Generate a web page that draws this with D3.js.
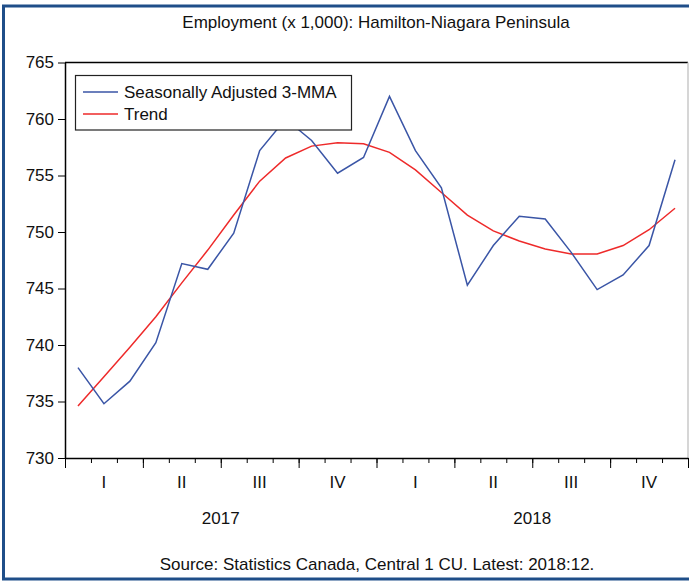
<!DOCTYPE html>
<html lang="en">
<head>
<meta charset="UTF-8">
<title>Employment Hamilton-Niagara</title>
<script src="https://d3js.org/d3.v7.min.js"></script>
<style>
    body { margin: 0; background: #fff; }
    svg text { font-family: "Liberation Sans", Arial, sans-serif; fill: #111; }
</style>
</head>
<body>
<div id="chart"></div>
<script>
    // monthly values, Jan 2017 - Dec 2018
    var months = d3.range(24);
    var seasAdj = [738.0, 734.8, 736.8, 740.2, 747.2, 746.7, 749.9, 757.2, 760.0, 758.1, 755.2, 756.6,
                   762.0, 757.2, 753.9, 745.3, 748.8, 751.4, 751.15, 748.2, 744.9, 746.2, 748.8, 756.4];
    var trend = [734.6, 737.2, 739.8, 742.5, 745.5, 748.4, 751.5, 754.5, 756.55, 757.6, 757.9, 757.8,
                 757.05, 755.5, 753.5, 751.5, 750.1, 749.2, 748.5, 748.05, 748.05, 748.8, 750.2, 752.1];
    var quarterLabels = ["I", "II", "III", "IV", "I", "II", "III", "IV"];
    var yearLabels = ["2017", "2018"];
    var yTicks = [730, 735, 740, 745, 750, 755, 760, 765];

    function draw() {
        var width = 689, height = 581;
        var pLeft = 65, pRight = 688, pTop = 62.5, pBottom = 458;

        var svg = d3.select("#chart").append("svg")
            .attr("width", width)
            .attr("height", height);

        svg.append("rect").attr("width", width).attr("height", height).attr("fill", "#fff");

        // outer frame (right side runs off the picture)
        svg.append("rect")
            .attr("x", 3.5).attr("y", 6)
            .attr("width", 720).attr("height", 573)
            .attr("fill", "none")
            .attr("stroke", "#1f4e89")
            .attr("stroke-width", 3);

        var x = d3.scaleLinear().domain([0, 24]).range([pLeft, pRight]);
        var y = d3.scaleLinear().domain([730, 765]).range([pBottom, pTop]);

        svg.append("text")
            .attr("x", 376).attr("y", 28)
            .attr("text-anchor", "middle")
            .style("font-size", "17px")
            .text("Employment (x 1,000): Hamilton-Niagara Peninsula");

        // top and right edges of plot
        svg.append("line").attr("x1", pLeft).attr("x2", pRight).attr("y1", pTop).attr("y2", pTop)
            .attr("stroke", "#000").attr("stroke-width", 1.5);
        svg.append("line").attr("x1", pRight).attr("x2", pRight).attr("y1", pTop).attr("y2", pBottom)
            .attr("stroke", "#c8c8c8").attr("stroke-width", 1.5);

        var yAxis = d3.axisLeft(y).tickValues(yTicks).tickSize(7).tickPadding(4)
            .tickSizeOuter(0).tickFormat(d3.format("d"));
        var gy = svg.append("g").attr("transform", "translate(" + pLeft + ",0)").call(yAxis);
        gy.select(".domain").attr("stroke", "#000").attr("stroke-width", 1.5);
        gy.selectAll("text").style("font-size", "17px").attr("fill", "#111");

        // month ticks (minor) and quarter ticks (major)
        var gxMinor = svg.append("g").attr("transform", "translate(0," + pBottom + ")")
            .call(d3.axisBottom(x).tickValues(d3.range(0, 25)).tickSize(5).tickFormat("").tickSizeOuter(0));
        gxMinor.select(".domain").attr("stroke", "#000").attr("stroke-width", 1.5);
        var gxMajor = svg.append("g").attr("transform", "translate(0," + pBottom + ")")
            .call(d3.axisBottom(x).tickValues(d3.range(0, 25, 3)).tickSize(10).tickFormat("").tickSizeOuter(0));
        gxMajor.select(".domain").remove();

        svg.append("g").selectAll("text")
            .data(quarterLabels)
            .join("text")
            .attr("x", function(d, i) { return x(i * 3 + 1.5); })
            .attr("y", 488)
            .attr("text-anchor", "middle")
            .style("font-size", "17px")
            .text(function(d) { return d; });

        svg.append("g").selectAll("text")
            .data(yearLabels)
            .join("text")
            .attr("x", function(d, i) { return x(i * 12 + 6); })
            .attr("y", 524)
            .attr("text-anchor", "middle")
            .style("font-size", "17px")
            .text(function(d) { return d; });

        var line = function(vals) {
            return d3.line()
                .x(function(d) { return x(d + 0.5); })
                .y(function(d) { return y(vals[d]); })(months);
        };

        svg.append("path").attr("d", line(trend))
            .attr("fill", "none").attr("stroke", "#ee2a2a").attr("stroke-width", 1.5);
        svg.append("path").attr("d", line(seasAdj))
            .attr("fill", "none").attr("stroke", "#3a55a6").attr("stroke-width", 1.5);

        // legend
        var legend = svg.append("g");
        legend.append("rect")
            .attr("x", 75.5).attr("y", 75.5).attr("width", 276).attr("height", 54.5)
            .attr("fill", "#fff").attr("stroke", "#222").attr("stroke-width", 1.2);
        var items = [["Seasonally Adjusted 3-MMA", "#3a55a6"], ["Trend", "#ee2a2a"]];
        items.forEach(function(it, i) {
            var ly = 92 + i * 22;
            legend.append("line").attr("x1", 83).attr("x2", 118).attr("y1", ly).attr("y2", ly)
                .attr("stroke", it[1]).attr("stroke-width", 1.5);
            legend.append("text").attr("x", 124).attr("y", ly + 6)
                .style("font-size", "17px").text(it[0]);
        });

        svg.append("text")
            .attr("x", 377).attr("y", 570)
            .attr("text-anchor", "middle")
            .style("font-size", "17px")
            .text("Source: Statistics Canada, Central 1 CU. Latest: 2018:12.");
    }
    draw();
</script>
</body>
</html>
